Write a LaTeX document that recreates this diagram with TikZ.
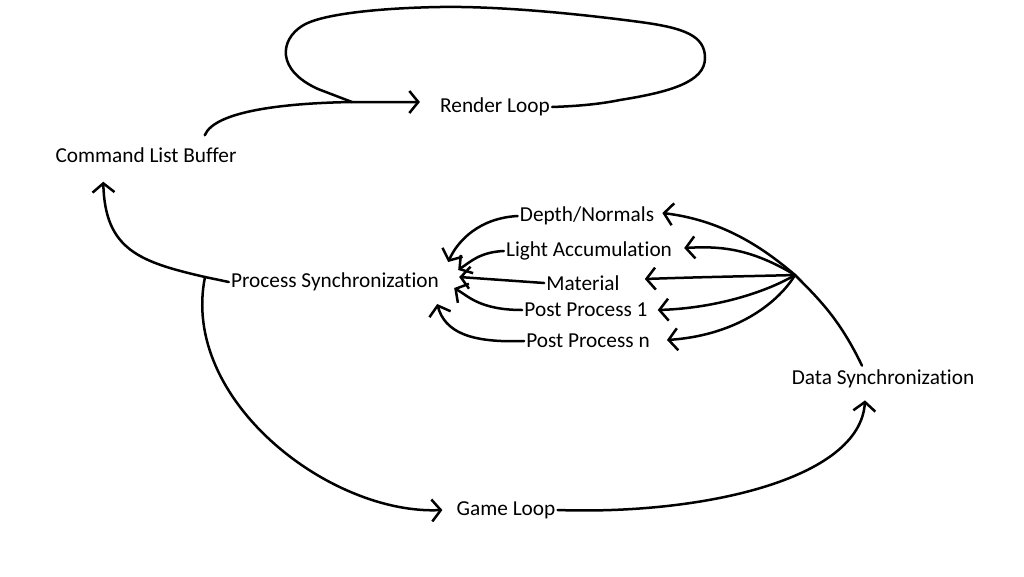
\documentclass[tikz,border=0pt]{standalone}
\usepackage{fontspec}
\setmainfont[Ligatures={NoCommon,NoContextual},Contextuals=NoAlternate]{Carlito}
\usetikzlibrary{arrows.meta,calc}
\begin{document}
\begin{tikzpicture}[x=1pt,y=-1pt, line width=2.5pt, line cap=round, line join=round,
  lbl/.style={font=\fontsize{21.3}{25}\selectfont, inner sep=1pt},
  arr/.style={-{Straight Barb[length=9pt,width=22pt]}}]
\useasboundingbox (0,0) rectangle (1024,576);
% nodes
\node[lbl] (rl)  at (495,107) {Render Loop};
\node[lbl] (clb) at (146,155) {Command List Buffer};
\node[lbl] (ps)  at (335,282) {Process Synchronization};
\node[lbl] (dn)  at (587,216) {Depth/Normals};
\node[lbl] (la)  at (589,251) {Light Accumulation};
\node[lbl] (mat) at (583,283) {Material};
\node[lbl] (pp1) at (586,310) {Post Process 1};
\node[lbl] (ppn) at (588,341) {Post Process n};
\node[lbl] (ds)  at (883,379) {Data Synchronization};
\node[lbl] (gl)  at (506,510) {Game Loop};
\coordinate (psj) at (205,277);
\coordinate (fork) at (795,275);
\coordinate (rlj) at (352,102);
% command list buffer -> render loop
\draw[arr] ($(clb.north east)+(-34,-10)$) .. controls (215,110) and (290,103) .. (rlj) -- ($(rl.west)+(-18,-5)$);
% render loop self loop
\draw (rl.east) .. controls (580,106) and (600,104) .. (620,100)
  .. controls (670,92) and (705,82) .. (705,58)
  .. controls (705,36) and (685,28) .. (640,22)
  .. controls (580,14) and (500,6) .. (440,7)
  .. controls (380,8) and (320,14) .. (302,26)
  .. controls (280,40) and (276,70) .. (318,89) -- (rlj);
% process sync -> command list buffer / game loop
\draw (ps.west) -- (psj);
\draw[arr] (psj) .. controls (140,262) and (105,250) .. ($(clb.south west)+(50,17)$);
\draw[arr] (psj) .. controls (180,400) and (330,515) .. ($(gl.west)+(-12,0)$);
% game loop -> data sync
\draw[arr] (gl.east) .. controls (700,515) and (860,480) .. ($(ds.south)+(-18,10)$);
% data sync -> fork
\draw ($(ds.north)+(-21,-2)$) .. controls (840,320) and (820,300) .. (fork);
% fork -> passes
\draw[arr] (fork) .. controls (760,245) and (720,220) .. ($(dn.east)+(6,-3)$);
\draw[arr] (fork) .. controls (750,248) and (720,246) .. ($(la.east)+(10,-3)$);
\draw[arr] (fork) .. controls (760,276) and (700,277) .. ($(mat.east)+(23,-4)$);
\draw[arr] (fork) .. controls (770,290) and (720,308) .. ($(pp1.east)+(8,0)$);
\draw[arr] (fork) .. controls (780,300) and (740,335) .. ($(ppn.east)+(15,-1)$);
% passes -> process sync
\draw[arr] (dn.west) .. controls (480,218) and (458,240) .. ($(ps.east)+(7,-20)$);
\draw[arr] (la.west) .. controls (480,252) and (470,262) .. ($(ps.east)+(17,-12)$);
\draw[arr] (mat.west) -- ($(ps.east)+(18,-5)$);
\draw[arr] (pp1.west) .. controls (480,310) and (468,296) .. ($(ps.east)+(13,6)$);
\draw[arr] (ppn.west) .. controls (470,343) and (445,332) .. ($(ps.east)+(-4,22)$);
\end{tikzpicture}
\end{document}
